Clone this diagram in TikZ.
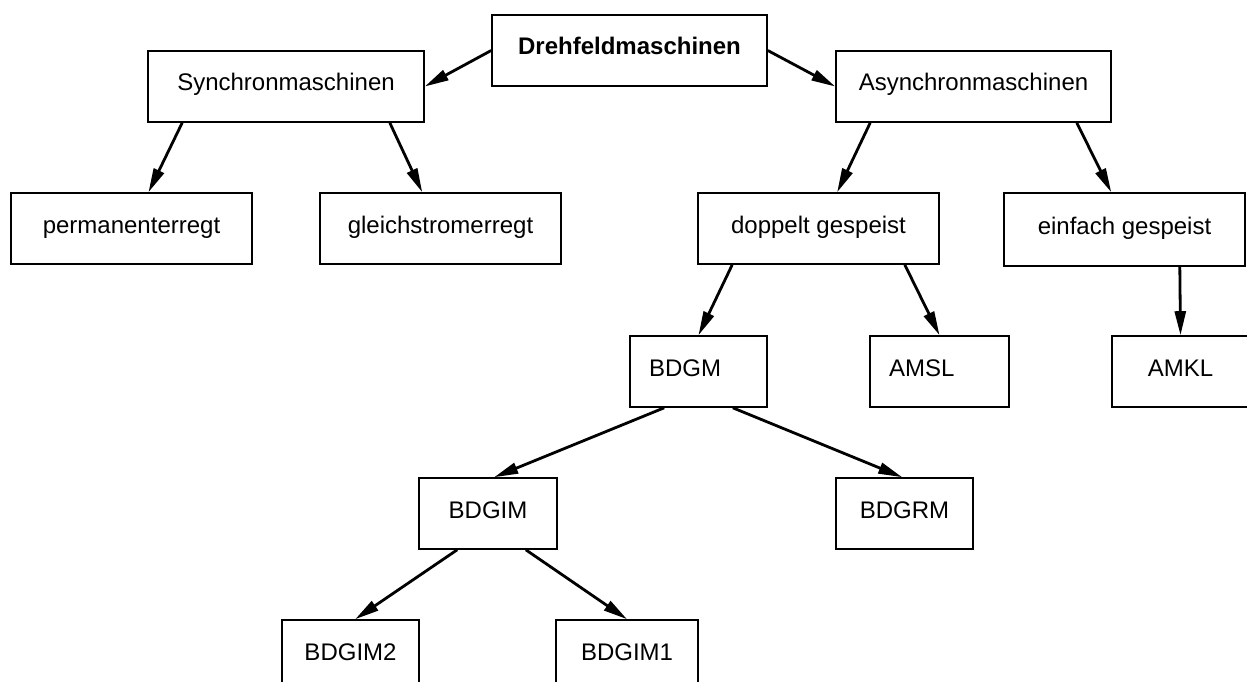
\documentclass[tikz,border=0pt]{standalone}
\usepackage{fontspec}
\setmainfont{Liberation Sans}
\usetikzlibrary{arrows.meta}
\begin{document}
\begin{tikzpicture}[x=1pt,y=-1pt,
  box/.style={draw=black,line width=1.6pt,rectangle,inner sep=0pt,
    minimum height=71pt,text height=15pt,text depth=6pt,font=\fontsize{24}{28}\selectfont},
  leftbox/.style={box,align=left,inner xsep=19pt},
  arr/.style={draw=black,line width=2.8pt,-{Triangle[length=24pt,width=11pt]}}]
\useasboundingbox (0,0) rectangle (1247,682);
\fill[white] (0,0) rectangle (1247,682);
\clip (0,0) rectangle (1247,682);
% nodes
\node[box,minimum width=275pt,font=\fontsize{24}{28}\selectfont\bfseries] (dreh) at (629.5,50.5) {Drehfeldmaschinen};
\node[box,minimum width=276pt] (sync) at (286,86.5) {Synchronmaschinen};
\node[box,minimum width=275pt] (asyn) at (973.5,86.5) {Asynchronmaschinen};
\node[box,minimum width=241pt] (perm) at (131.5,228.5) {permanenterregt};
\node[box,minimum width=241pt] (gleich) at (440.5,228.5) {gleichstromerregt};
\node[box,minimum width=241pt] (dopp) at (818.5,228.5) {doppelt gespeist};
\node[box,minimum width=241pt,minimum height=73pt] (einf) at (1124.5,229.5) {einfach gespeist};
\node[leftbox,text width=99pt] (bdgm) at (698.5,371.5) {BDGM};
\node[leftbox,text width=101pt] (amsl) at (939.5,371.5) {AMSL};
\node[box,minimum width=137pt] (amkl) at (1180.5,371.5) {AMKL};
\node[box,minimum width=138pt] (bdgim) at (488,513.5) {BDGIM};
\node[box,minimum width=137pt] (bdgrm) at (904.5,513.5) {BDGRM};
\node[box,minimum width=137pt] (bdgim2) at (350.5,655.5) {BDGIM2};
\node[box,minimum width=142pt] (bdgim1) at (627,655.5) {BDGIM1};
% connectors
\draw[arr] (dreh.west) -- (sync.east);
\draw[arr] (dreh.east) -- (asyn.west);
\draw[arr] ([xshift=35pt]sync.south west) -- ([xshift=17pt]perm.north);
\draw[arr] ([xshift=-35pt]sync.south east) -- ([xshift=103pt]gleich.north west);
\draw[arr] ([xshift=35pt]asyn.south west) -- ([xshift=140pt]dopp.north west);
\draw[arr] ([xshift=-35pt]asyn.south east) -- ([xshift=108pt]einf.north west);
\draw[arr] ([xshift=35pt]dopp.south west) -- (bdgm.north);
\draw[arr] ([xshift=-35pt]dopp.south east) -- (amsl.north);
\draw[arr] ([xshift=-66pt]einf.south east) -- (amkl.north);
\draw[arr] ([xshift=35pt]bdgm.south west) -- ([xshift=76pt]bdgim.north west);
\draw[arr] ([xshift=-35pt]bdgm.south east) -- ([xshift=67pt]bdgrm.north west);
\draw[arr] ([xshift=39pt]bdgim.south west) -- ([xshift=74pt]bdgim2.north west);
\draw[arr] ([xshift=-32pt]bdgim.south east) -- (bdgim1.north);
\end{tikzpicture}
\end{document}
